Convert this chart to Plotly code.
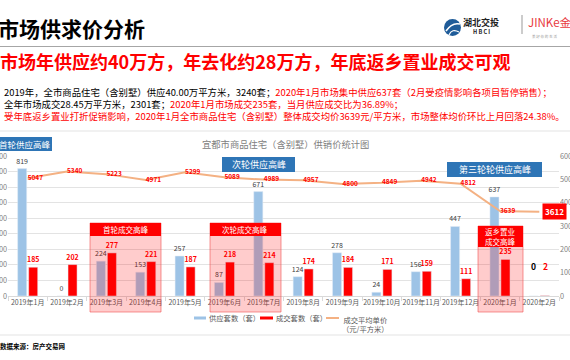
import plotly.graph_objects as go

# ---------------- data ----------------
months = ["2019年1月", "2019年2月", "2019年3月", "2019年4月", "2019年5月", "2019年6月",
          "2019年7月", "2019年8月", "2019年9月", "2019年10月", "2019年11月", "2019年12月",
          "2020年1月", "2020年2月"]
supply = [819, 0, 224, 153, 257, 87, 671, 124, 278, 24, 156, 447, 637, 0]
sales = [185, 202, 277, 221, 187, 218, 214, 174, 184, 171, 159, 111, 235, 2]
price = [5047, 5340, 5223, 4971, 5299, 5089, 4989, 4957, 4800, 4849, 4942, 4812, 3639, 3612]
left_ticks = list(range(0, 901, 100))
right_ticks = list(range(0, 6001, 1000))

# ---------------- geometry helpers ----------------
FW, FH = 570, 360
L, R, T, B = 8, 11, 156, 64
PW = FW - L - R
PH = FH - T - B
FONT = "Noto Sans CJK SC"


def px(x):
    return (x - L) / PW


def py(y):
    return (FH - B - y) / PH


BLUE = "#9DC3E6"
RED = "#FF0000"
ORANGE = "#F4B183"
GRAY = "#595959"

fig = go.Figure()

fig.add_trace(go.Bar(
    x=months, y=supply, name="供应套数（套）", marker_color=BLUE,
    text=[str(v) for v in supply[:-1]] + [""], textposition="outside",
    textfont=dict(size=7, color="#404040", family=FONT), cliponaxis=False,
    constraintext="none"))
fig.add_trace(go.Bar(
    x=months, y=sales, name="成交套数（套）", marker_color=RED,
    text=[str(v) for v in sales[:-1]] + [""], textposition="outside",
    textfont=dict(size=7, color=RED, family=FONT, weight=700), cliponaxis=False,
    constraintext="none"))
fig.add_trace(go.Scatter(
    x=months, y=price, name="成交平均单价（元/平方米）", yaxis="y2", mode="lines+text",
    line=dict(color=ORANGE, width=2),
    text=[str(v) for v in price[:-1]] + [""], textposition="middle right",
    textfont=dict(size=6.5, color=RED, family=FONT, weight=700), cliponaxis=False))

shapes = []
ann = []


def text(x, y, s, size, color="#000", xanchor="left", yanchor="middle", bold=False, **kw):
    ann.append(dict(x=px(x), y=py(y), xref="paper", yref="paper", text=s, showarrow=False,
                    xanchor=xanchor, yanchor=yanchor,
                    font=dict(size=size, color=color, family=FONT, weight=700 if bold else 400),
                    **kw))


def rect(x0, y0, x1, y1, fill, line=None, lw=0, layer="above"):
    shapes.append(dict(type="rect", xref="paper", yref="paper", x0=px(x0), x1=px(x1),
                       y0=py(y1), y1=py(y0), fillcolor=fill,
                       line=dict(color=line or fill, width=lw), layer=layer))


def hline(x0, x1, y, color, w=1):
    shapes.append(dict(type="line", xref="paper", yref="paper", x0=px(x0), x1=px(x1),
                       y0=py(y), y1=py(y), line=dict(color=color, width=w)))


# ---------------- header ----------------
text(-4, 28, "市场供求价分析", 21, "#000", bold=True)
hline(0, 570, 46.5, "#A6A6A6", 1.2)
text(-2, 61, "市场年供应约40万方，年去化约28万方，年底返乡置业成交可观", 18, RED, bold=True)

# logo
shapes.append(dict(type="circle", xref="paper", yref="paper", x0=px(444), x1=px(461),
                   y0=py(36), y1=py(19), fillcolor="#1F5C99", line=dict(color="#1F5C99", width=0)))
shapes.append(dict(type="path", xref="paper", yref="paper",
                   path="M %f,%f Q %f,%f %f,%f" % (px(446), py(31), px(452), py(22), px(460), py(24)),
                   line=dict(color="white", width=1.5)))
shapes.append(dict(type="path", xref="paper", yref="paper",
                   path="M %f,%f Q %f,%f %f,%f" % (px(449), py(35), px(452), py(28), px(459), py(32)),
                   line=dict(color="white", width=1.2)))
text(481, 22, "湖北交投", 9, "#222", xanchor="center", bold=True)
text(481, 31.5, "H B C I", 5.5, "#222", xanchor="center", bold=True)
shapes.append(dict(type="line", xref="paper", yref="paper", x0=px(522), x1=px(522),
                   y0=py(34), y1=py(15), line=dict(color="#999", width=1)))
text(526, 22, "JINKe金科", 11.5, "#E8383D")
text(530, 37, "美 好 你 的 生 活", 3.5, "#999")

# paragraph (one multi-line text block)
line1 = ("2019年，全市商品住宅（含别墅）供应40.00万平方米，3240套；"
         "<span style='color:#FF0000'>2020年1月市场集中供应637套（2月受疫情影响各项目暂停销售）；</span>")
line2 = ("全年市场成交28.45万平方米，2301套；"
         "<span style='color:#FF0000'>2020年1月市场成交235套，当月供应成交比为36.89%；</span>")
line3 = ("<span style='color:#FF0000'>受年底返乡置业打折促销影响，2020年1月全市商品住宅（含别墅）"
         "整体成交均价3639元/平方米，市场整体均价环比上月回落24.38%。</span>")
text(2, 104, line1 + "<br>" + line2 + "<br>" + line3, 9.4, "#000", align="left")
hline(0, 570, 131, "#E3E3E3", 1)

# chart title
text(285.5, 144, "宜都市商品住宅（含别墅）供销价统计图", 9.3, "#808080", xanchor="center")

# blue supply-peak boxes
for (x0, y0, x1, y1, s, fs) in [(-2, 137, 52, 151, "首轮供应高峰", 8.5),
                                (222, 157, 295, 172, "次轮供应高峰", 9),
                                (447, 162, 542, 177, "第三轮轮供应高峰", 9)]:
    rect(x0, y0, x1, y1, "#2E75B6")
    text((x0 + x1) / 2, (y0 + y1) / 2, s, fs, "white", xanchor="center")

# red sales-peak highlight areas
for (x0, x1, s) in [(90, 161, "首轮成交高峰"), (210, 281, "次轮成交高峰")]:
    rect(x0, 223, x1, 312, "rgba(255,0,0,0.2)", "rgba(240,80,80,0.6)", 1)
    rect(x0, 223, x1, 236, RED)
    text((x0 + x1) / 2, 229.5, s, 7.5, "white", xanchor="center")
rect(478, 226, 523, 312, "rgba(255,0,0,0.2)", "rgba(240,80,80,0.6)", 1)
rect(478, 226, 523, 247, RED)
text(500.5, 236.5, "返乡置业<br>成交高峰", 7.5, "white", xanchor="center")

# special labels for 2020年2月
ann.append(dict(x=months[-1], y=supply[-1], xref="x", yref="y", text=str(supply[-1]),
                showarrow=False, xshift=-6, yshift=30,
                font=dict(size=8.5, color="#000", family=FONT, weight=700)))
ann.append(dict(x=months[-1], y=sales[-1], xref="x", yref="y", text=str(sales[-1]),
                showarrow=False, xshift=6, yshift=30,
                font=dict(size=8.5, color=RED, family=FONT, weight=700)))
ann.append(dict(x=months[-1], y=price[-1], xref="x", yref="y2", text=str(price[-1]),
                showarrow=False, xanchor="left", xshift=3, bgcolor=RED, borderpad=2,
                font=dict(size=8, color="white", family=FONT, weight=700)))

# manual legend
rect(194, 316.5, 206, 319.5, BLUE)
text(207, 318, "供应套数（套）", 7.3, GRAY)
rect(260, 316.5, 273, 319.5, RED)
text(274, 318, "成交套数（套）", 7.3, GRAY)
hline(326, 339, 318, ORANGE, 2)
text(340, 312.5, "成交平均单价<br>（元/平方米）", 7.3, GRAY, yanchor="top", align="center")
hline(0, 570, 335, "#E3E3E3", 1)

text(-2, 345.5, "数据来源：房产交易网", 6.5, "#000", bold=True)

fig.update_layout(
    width=FW, height=FH,
    margin=dict(l=L, r=R, t=T, b=B, autoexpand=False),
    paper_bgcolor="white", plot_bgcolor="white",
    showlegend=False,
    barmode="group", bargap=0.44, bargroupgap=0.18,
    font=dict(family=FONT, color=GRAY),
    shapes=shapes, annotations=ann,
    xaxis=dict(range=[-0.5, len(months) - 0.5], showline=True, linecolor="#D9D9D9",
               ticks="outside", tickson="boundaries", ticklen=4, tickcolor="#D9D9D9",
               tickangle=0, tickfont=dict(size=7, color=GRAY), showgrid=False,
               automargin=False),
    yaxis=dict(range=[0, 900], tickvals=left_ticks, showgrid=True, gridcolor="#E3E3E3",
               zeroline=False, tickfont=dict(size=7.3, color="#7F7F7F"), automargin=False),
    yaxis2=dict(range=[0, 6000], tickvals=right_ticks, overlaying="y", side="right",
                showgrid=False, zeroline=False, tickfont=dict(size=7.3, color="#7F7F7F"),
                automargin=False),
)

fig.write_html("out.html", config={"displayModeBar": False},
               post_script="document.body.style.margin='0px';")
